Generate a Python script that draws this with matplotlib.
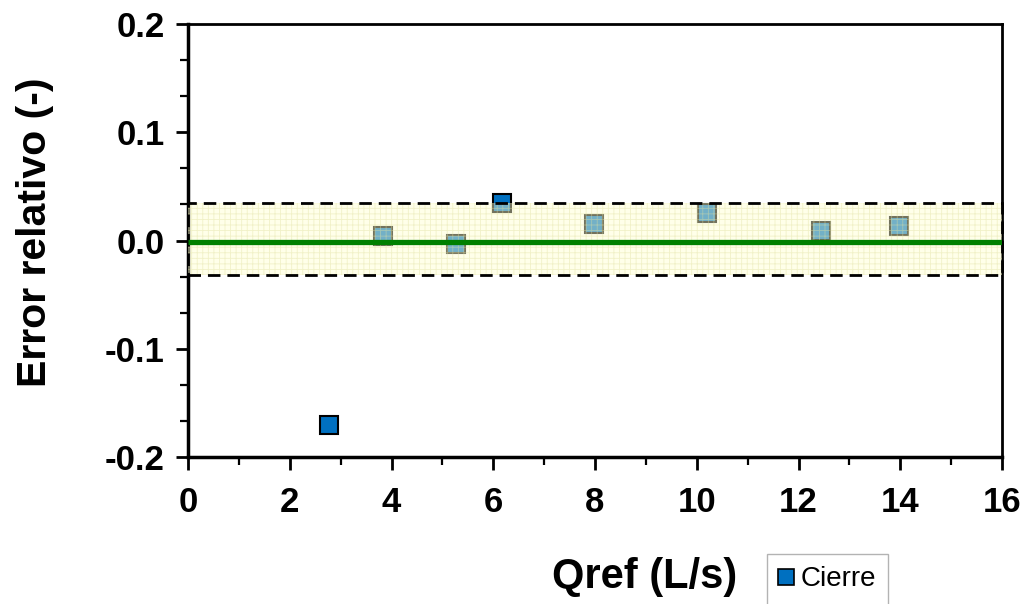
import matplotlib
matplotlib.use("Agg")
import matplotlib.pyplot as plt
from matplotlib.ticker import MultipleLocator
from matplotlib.patches import Rectangle
from matplotlib.lines import Line2D

plt.rcParams['font.family'] = ['Liberation Sans', 'DejaVu Sans']
plt.rcParams['hatch.linewidth'] = 0.6

# datos
qref = [2.78, 3.84, 5.27, 6.17, 7.98, 10.2, 12.44, 13.98]
error_rel = [-0.1707, 0.004, -0.0035, 0.0344, 0.015, 0.025, 0.009, 0.0134]
banda_sup = 0.035
banda_inf = -0.032
linea_media = -0.001
xlim = (0, 16)
ylim = (-0.2, 0.2)

fig = plt.figure(figsize=(10.28, 6.04), dpi=100)
ax = fig.add_axes([188/1028, 1 - 457/604, (1002 - 188)/1028, (457 - 24)/604])

azul = '#0070C0'
ax.plot(qref, error_rel, ls='none', marker='s', ms=13, mfc=azul, mec='black',
        mew=1.5, zorder=2)

# banda de tolerancia (tapa parcialmente los puntos)
ax.fill_between(xlim, banda_inf, banda_sup, facecolor='#FFFFD0', alpha=0.45,
                edgecolor='#E0E0A0', hatch='+++', linewidth=0, zorder=3)
ax.add_patch(Rectangle((xlim[0], banda_inf), xlim[1] - xlim[0], banda_sup - banda_inf,
                       fill=False, edgecolor='black', ls=(0, (4.5, 2.5)), lw=2.0, zorder=4,
                       clip_on=False))
ax.plot(xlim, [linea_media, linea_media], color='#008000', lw=3.8, zorder=5,
        solid_capstyle='butt')

ax.set_xlim(*xlim)
ax.set_ylim(*ylim)
ax.xaxis.set_major_locator(MultipleLocator(2))
ax.xaxis.set_minor_locator(MultipleLocator(1))
ax.yaxis.set_major_locator(MultipleLocator(0.1))
ax.yaxis.set_minor_locator(MultipleLocator(0.1/3))
ax.yaxis.set_major_formatter(lambda v, p: f'{v:.1f}')

ax.tick_params(which='major', direction='out', length=9, width=2, labelsize=25)
ax.tick_params(axis='x', which='major', pad=12)
ax.tick_params(axis='y', which='major', pad=8)
ax.tick_params(which='minor', direction='out', length=6, width=1.6)
for lab in ax.get_xticklabels() + ax.get_yticklabels():
    lab.set_fontweight('bold')

ax.spines['left'].set_linewidth(2.5)
ax.spines['bottom'].set_linewidth(2.5)
ax.spines['top'].set_linewidth(2)
ax.spines['right'].set_linewidth(2)

fig.text(645/1028, 1 - 577/604, 'Qref (L/s)', fontsize=30, fontweight='bold',
         ha='center', va='center')
fig.text(35/1028, 1 - 232/604, 'Error relativo (-)', fontsize=29.5, fontweight='bold',
         rotation=90, ha='center', va='center')

handle = Line2D([], [], ls='none', marker='s', ms=12, mfc=azul, mec='black', mew=1.2)
leg = fig.legend([handle], ['Cierre'], loc='upper left',
                 bbox_to_anchor=(767/1028, 1 - 554/604), fontsize=20,
                 fancybox=False, edgecolor='#A0A0A0', handlelength=0.5,
                 handletextpad=0.25, borderpad=0.45, borderaxespad=0)
leg.get_frame().set_linewidth(1)

fig.savefig('out.png', dpi=100)
